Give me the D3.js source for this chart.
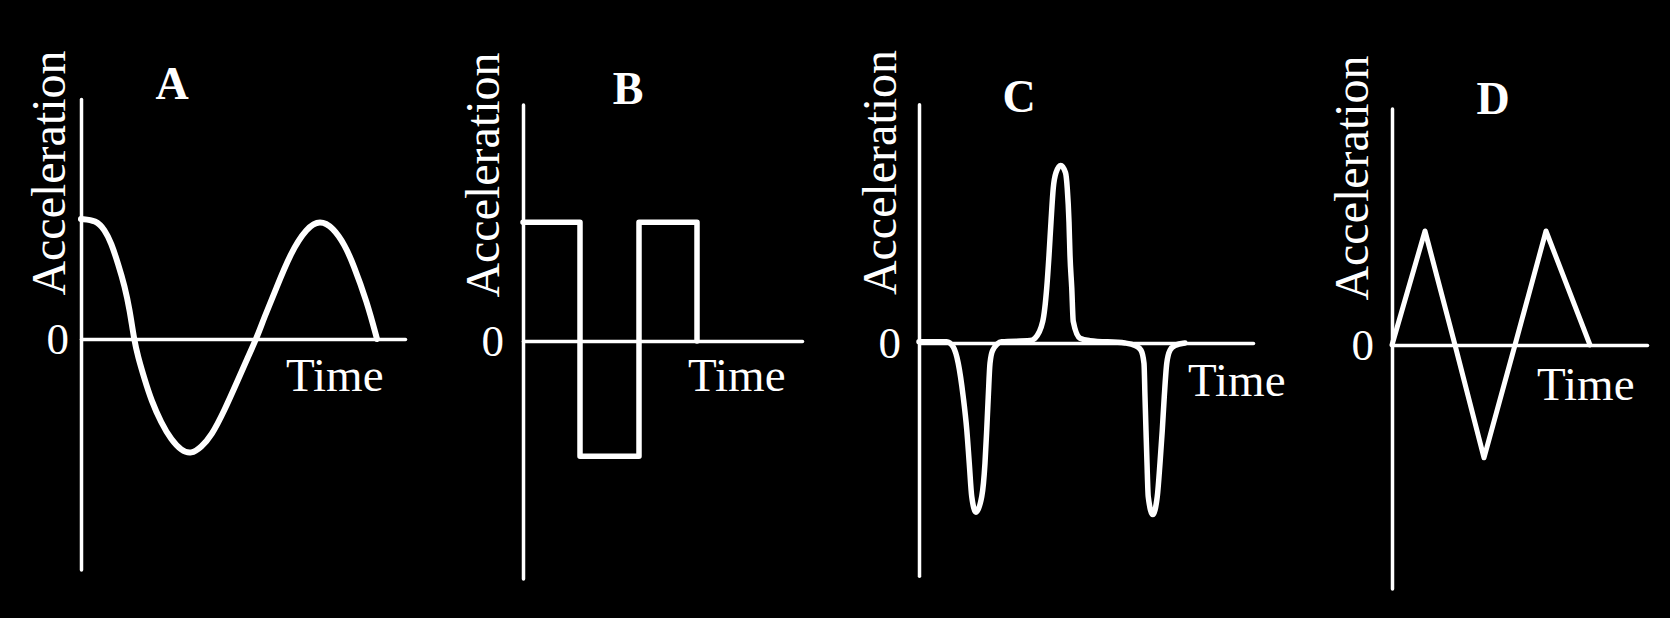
<!DOCTYPE html>
<html><head><meta charset="utf-8">
<script src="https://cdn.jsdelivr.net/npm/d3@7"></script>
<style>
html,body{margin:0;padding:0;background:#000;}
svg{display:block;background:#000;}
text{font-family:"Liberation Serif","Times New Roman",serif;fill:#fff;}
</style>
</head><body>
<svg id="chart" width="1670" height="618"></svg>
<script>
// ---- labels ----
const panelTitles = ["A", "B", "C", "D"];
const yAxisLabel = "Acceleration";
const xAxisLabel = "Time";
const yTickValues = [0];

// ---- data (time in arbitrary units, acceleration in arbitrary units) ----
const timeA = [0, 0.6, 0.95, 1.21, 1.48, 1.75, 1.95, 2.12, 2.28, 2.55, 2.81, 3.21, 3.61, 4.01, 4.41, 4.81, 5.21, 5.75, 6.28, 6.68, 7.01, 7.35, 7.75, 8.36, 9.04, 9.56, 10.08, 10.56, 10.88, 11.44, 11.84];
const accA  = [1.0, 0.99, 0.91, 0.8, 0.63, 0.44, 0.24, 0, -0.15, -0.34, -0.51, -0.7, -0.84, -0.93, -0.96, -0.9, -0.81, -0.59, -0.34, -0.15, 0, 0.19, 0.39, 0.71, 0.93, 0.99, 0.93, 0.78, 0.63, 0.31, 0];

const timeB = [0, 2.28, 2.28, 4.64, 4.64, 6.96, 6.96];
const accB  = [0.99, 0.99, -0.96, -0.96, 0.99, 0.99, 0];

const timeC = [0, 1.11, 1.36, 1.57, 1.77, 1.91, 2.01, 2.11, 2.28, 2.51, 2.64, 2.71, 2.77, 2.84, 2.95, 3.31,
               4.44, 4.64, 4.95, 5.11, 5.2, 5.28, 5.37, 5.48, 5.67, 5.86, 5.93, 6.0, 6.04, 6.11, 6.17, 6.44, 6.84,
               8.24, 8.64, 8.88, 9.0, 9.04, 9.08, 9.12, 9.17, 9.35, 9.53, 9.64, 9.73, 9.81, 9.91, 10.04, 10.24, 10.64];
const accC  = [0.01, 0.01, -0.03, -0.17, -0.45, -0.72, -1.0, -1.28, -1.41, -1.28, -1.0, -0.72, -0.45, -0.17, -0.06, 0.01,
               0.02, 0.04, 0.18, 0.46, 0.73, 1.01, 1.29, 1.42, 1.48, 1.42, 1.29, 1.01, 0.73, 0.46, 0.18, 0.04, 0.02,
               0, -0.02, -0.06, -0.17, -0.45, -0.73, -1.0, -1.28, -1.43, -1.28, -1.0, -0.73, -0.45, -0.17, -0.06, -0.02, 0];

const timeD = [0, 1.32, 2.52, 3.68, 4.92, 6.16, 7.92];
const accD  = [0, 0.95, 0, -0.94, 0, 0.95, 0];

// ---- layout (pixels) ----
const layout = [
  {ox: 81,   oy: 339, tEnd: 12.96, aTop: 2.0,  aBot: -1.92, titleX: 172,  titleY: 99,  labX: 65,   labY: 173,   timeX: 286,  timeY: 391, zeroPad: 12, curve: d3.curveBasis, sw: 6},
  {ox: 523,  oy: 341, tEnd: 11.16, aTop: 1.97, aBot: -1.98, titleX: 628,  titleY: 104, labX: 499,  labY: 175,   timeX: 688,  timeY: 391, zeroPad: 19, curve: d3.curveLinear, sw: 5.5},
  {ox: 919,  oy: 343, tEnd: 13.36, aTop: 1.99, aBot: -1.94, titleX: 1019, titleY: 112, labX: 896,  labY: 172.5, timeX: 1188, timeY: 396, zeroPad: 18, curve: d3.curveMonotoneX, sw: 5.5},
  {ox: 1392, oy: 345, tEnd: 10.2,  aTop: 1.97, aBot: -2.03, titleX: 1493, titleY: 114, labX: 1368, labY: 178,   timeX: 1537, timeY: 400, zeroPad: 18, curve: d3.curveLinear, sw: 5}
];

const series = [
  timeA.map((t, i) => [t, accA[i]]),
  timeB.map((t, i) => [t, accB[i]]),
  timeC.map((t, i) => [t, accC[i]]),
  timeD.map((t, i) => [t, accD[i]])
];

// shared scales (per-unit pixel sizes)
const x = d3.scaleLinear().domain([0, 12]).range([0, 300]);
const y = d3.scaleLinear().domain([-1, 1]).range([120, -120]);

const svg = d3.select("#chart");

layout.forEach((L, i) => {
  const g = svg.append("g").attr("transform", `translate(${L.ox},${L.oy})`);

  const xp = x.copy().domain([0, L.tEnd]).range([0, x(L.tEnd)]);
  const yp = y.copy().domain([L.aBot, L.aTop]).range([y(L.aBot), y(L.aTop)]);

  // x axis
  const gx = g.append("g").call(d3.axisBottom(xp).tickValues([]).tickSizeOuter(0));
  gx.select(".domain").attr("stroke", "#fff").attr("stroke-width", 3.5).attr("stroke-linecap", "round");

  // y axis with the single "0" tick
  const gy = g.append("g").call(d3.axisLeft(yp).tickValues(yTickValues).tickSize(0).tickSizeOuter(0).tickPadding(L.zeroPad).tickFormat(d3.format("d")));
  gy.select(".domain").attr("stroke", "#fff").attr("stroke-width", 3.5).attr("stroke-linecap", "round");
  gy.selectAll(".tick text")
    .attr("fill", "#fff")
    .style("font-family", '"Liberation Serif","Times New Roman",serif')
    .style("font-size", "45px");

  // the curve
  const line = d3.line().x(d => xp(d[0])).y(d => yp(d[1])).curve(L.curve);
  g.append("path")
    .datum(series[i])
    .attr("d", line)
    .attr("fill", "none")
    .attr("stroke", "#fff")
    .attr("stroke-width", L.sw)
    .attr("stroke-linejoin", "round")
    .attr("stroke-linecap", "round");

  // panel title
  svg.append("text")
    .attr("x", L.titleX).attr("y", L.titleY)
    .attr("text-anchor", "middle")
    .style("font-size", "46px").style("font-weight", "bold")
    .text(panelTitles[i]);

  // y axis label (rotated)
  svg.append("text")
    .attr("transform", `translate(${L.labX},${L.labY}) rotate(-90)`)
    .attr("text-anchor", "middle")
    .style("font-size", "48px")
    .text(yAxisLabel);

  // x axis label
  svg.append("text")
    .attr("x", L.timeX).attr("y", L.timeY)
    .style("font-size", "47px")
    .text(xAxisLabel);
});
</script>
</body></html>
